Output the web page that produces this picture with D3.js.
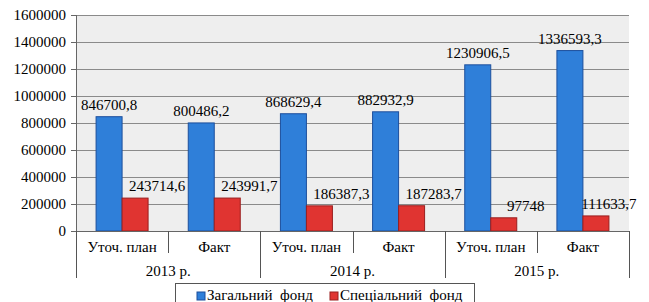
<!DOCTYPE html>
<html lang="uk">
<head>
<meta charset="UTF-8">
<title>Фонди</title>
<style>
  body { margin: 0; background: #fff; }
  .grid line { stroke: #8a8a8a; stroke-width: 1; }
  .grid path { display: none; }
  .axis path, .axis line { stroke: #666; shape-rendering: crispEdges; }
</style>
</head>
<body>
<div id="chart"></div>
<script src="https://cdn.jsdelivr.net/npm/d3@7"></script>
<script>
// data
var categories = ["Уточ. план", "Факт", "Уточ. план", "Факт", "Уточ. план", "Факт"];
var years = ["2013 р.", "2014 р.", "2015 р."];
var generalFund = [846700.8, 800486.2, 868629.4, 882932.9, 1230906.5, 1336593.3];
var specialFund = [243714.6, 243991.7, 186387.3, 187283.7, 97748, 111633.7];
var seriesNames = ["Загальний  фонд", "Спеціальний  фонд"];
var yTicks = [0, 200000, 400000, 600000, 800000, 1000000, 1200000, 1400000, 1600000];

var FONT = "Liberation Serif";

var W = 649, H = 302;
var margin = {top: 15, right: 20, bottom: 71, left: 76};
var width = W - margin.left - margin.right,
    height = H - margin.top - margin.bottom;

var colors = [
  {fill: "#2f7fd9", stroke: "#1d4f9c"},
  {fill: "#e03431", stroke: "#9a1f1f"}
];

var root = d3.select("#chart").append("svg")
    .attr("width", W)
    .attr("height", H);

var svg = root.append("g")
    .attr("transform", "translate(" + margin.left + "," + margin.top + ")");

var idx = d3.range(categories.length);

var x = d3.scaleBand()
    .domain(idx)
    .range([0, width])
    .paddingInner(0)
    .paddingOuter(0);

var barW = 26;

var y = d3.scaleLinear()
    .domain([0, 1600000])
    .range([height, 0]);

// plot background
svg.append("rect")
    .attr("width", width)
    .attr("height", height)
    .attr("fill", "#eeeeee");

// gridlines
svg.append("g")
    .attr("class", "grid")
    .call(d3.axisLeft(y).tickValues(yTicks).tickSize(-width).tickFormat(""));

// y axis
var yAxis = svg.append("g")
    .attr("class", "axis")
    .call(d3.axisLeft(y).tickValues(yTicks).tickSize(5).tickPadding(5).tickFormat(d3.format("d")));
yAxis.select(".domain").remove();

// bars
var series = [generalFund, specialFund];
series.forEach(function (vals, s) {
  svg.selectAll(".bar" + s)
      .data(vals)
      .enter().append("rect")
      .attr("x", function (d, i) { return x(i) + x.bandwidth() / 2 - barW + s * barW; })
      .attr("y", function (d) { return y(d); })
      .attr("width", barW)
      .attr("height", function (d) { return height - y(d); })
      .attr("fill", colors[s].fill)
      .attr("stroke", colors[s].stroke)
      .attr("stroke-width", 1);
});

function fmt(v) { return String(v).replace(".", ","); }

// value labels
svg.selectAll(".lblG")
    .data(generalFund)
    .enter().append("text")
    .attr("x", function (d, i) { return x(i) + x.bandwidth() / 2 - barW / 2; })
    .attr("y", function (d) { return y(d) - 7; })
    .attr("text-anchor", "middle")
    .text(fmt);

svg.selectAll(".lblS")
    .data(specialFund)
    .enter().append("text")
    .attr("x", function (d, i) { return x(i) + x.bandwidth() / 2 + barW / 2 + (i === 5 ? 13 : 22); })
    .attr("y", function (d) { return y(d) - 7; })
    .attr("text-anchor", "middle")
    .text(fmt);

// left axis line and x axis line
svg.append("line")
    .attr("x1", 0.5).attr("x2", 0.5)
    .attr("y1", 0).attr("y2", height)
    .attr("stroke", "#666");
svg.append("line")
    .attr("x1", -5).attr("x2", width)
    .attr("y1", height + 0.5).attr("y2", height + 0.5)
    .attr("stroke", "#666");

// category separators and labels
idx.concat([categories.length]).forEach(function (i) {
  var xx = i < categories.length ? x(i) : width;
  var isYear = i % 2 === 0;
  svg.append("line")
      .attr("x1", Math.round(xx) + 0.5).attr("x2", Math.round(xx) + 0.5)
      .attr("y1", height).attr("y2", height + (isYear ? 47 : 22))
      .attr("stroke", "#555");
});

svg.selectAll(".cat")
    .data(categories)
    .enter().append("text")
    .attr("x", function (d, i) { return x(i) + x.bandwidth() / 2; })
    .attr("y", height + 21)
    .attr("text-anchor", "middle")
    .text(function (d) { return d; });

svg.selectAll(".year")
    .data(years)
    .enter().append("text")
    .attr("x", function (d, i) { return x(i * 2) + x.bandwidth(); })
    .attr("y", height + 45)
    .attr("text-anchor", "middle")
    .text(function (d) { return d; });

// legend
var lg = root.append("g").attr("transform", "translate(175,283)");
lg.append("rect")
    .attr("x", 0.5).attr("y", 0.5)
    .attr("width", 299).attr("height", 30)
    .attr("fill", "#fff")
    .attr("stroke", "#555");
var legX = [22, 155];
seriesNames.forEach(function (name, s) {
  lg.append("rect")
      .attr("x", legX[s]).attr("y", 9)
      .attr("width", 8).attr("height", 8)
      .attr("fill", colors[s].fill)
      .attr("stroke", colors[s].stroke);
  lg.append("text")
      .attr("x", legX[s] + 10).attr("y", 17)
      .style("white-space", "pre")
      .text(name);
});

// one font for every text
root.selectAll("text")
    .attr("font-family", FONT)
    .attr("font-size", 15)
    .attr("fill", "#000");
</script>
</body>
</html>
